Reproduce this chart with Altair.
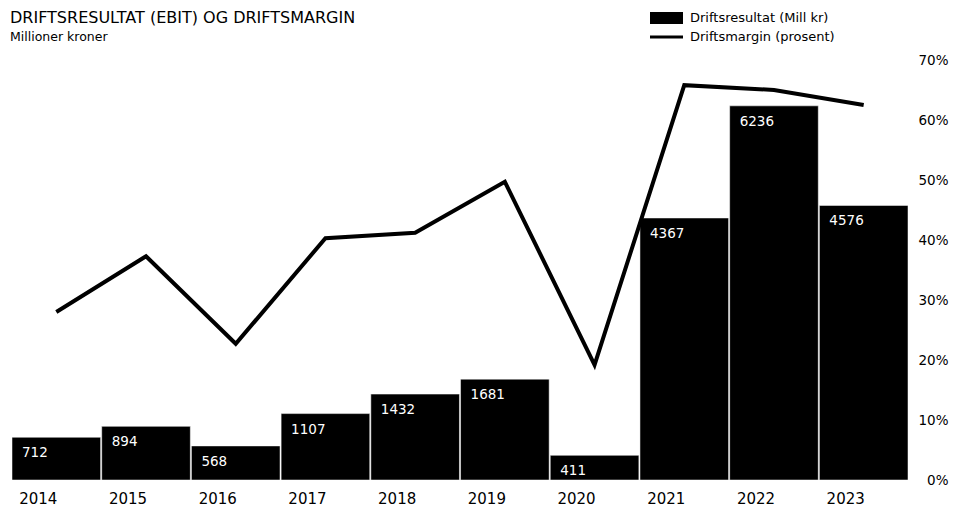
import altair as alt
import pandas as pd

years = ["2014", "2015", "2016", "2017", "2018", "2019", "2020", "2021", "2022", "2023"]
ebit = [712, 894, 568, 1107, 1432, 1681, 411, 4367, 6236, 4576]
margin = [0.280, 0.373, 0.227, 0.403, 0.412, 0.497, 0.192, 0.658, 0.650, 0.625]

legend_labels = ["Driftsresultat (Mill kr)", "Driftsmargin (prosent)"]
title_text = "DRIFTSRESULTAT (EBIT) OG DRIFTSMARGIN"
subtitle_text = "Millioner kroner"

df = pd.DataFrame({"year": years, "ebit": ebit, "margin": margin})

FONT = "DejaVu Sans"

x = alt.X("year:N", title=None, scale=alt.Scale(paddingInner=0.012, paddingOuter=0),
          axis=alt.Axis(labelAlign="center", labelOffset=-18, labelPadding=11, ticks=False,
                        domain=False, labelAngle=0, labelFontSize=15, labelColor="#000",
                        labelFont=FONT))

yb = alt.Y("ebit:Q", scale=alt.Scale(domain=[0, 7000], nice=False), axis=None)

bars = alt.Chart(df).mark_bar(color="#000", stroke="#fff", strokeWidth=0.5).encode(x=x, y=yb)

labels = alt.Chart(df).mark_text(color="#fff", align="left", baseline="top", dx=10, dy=9,
                                  fontSize=13.5, font=FONT).encode(
    x=alt.X("year:N", bandPosition=0, title=None),
    y=yb,
    text="ebit:Q",
)

line = alt.Chart(df).mark_line(color="#000", strokeWidth=4).encode(
    x=alt.X("year:N", title=None),
    y=alt.Y("margin:Q", scale=alt.Scale(domain=[0, 0.7], nice=False),
            axis=alt.Axis(orient="right", format=".0%", values=[0, .1, .2, .3, .4, .5, .6, .7],
                          ticks=False, domain=False, grid=False, labelAlign="right",
                          labelPadding=40, labelFontSize=13.5, labelColor="#000",
                          labelFont=FONT, title=None)),
)

leg = pd.DataFrame({"lab": legend_labels, "i": [0, 1]})
leg_rect = alt.Chart(leg).transform_filter("datum.i == 0").mark_rect(color="#000").encode(
    x=alt.value(638), x2=alt.value(671), y=alt.value(-48), y2=alt.value(-36))
leg_line = alt.Chart(leg).transform_filter("datum.i == 1").mark_rect(color="#000").encode(
    x=alt.value(638), x2=alt.value(671), y=alt.value(-24.5), y2=alt.value(-21.5))
leg_t0 = alt.Chart(leg).transform_filter("datum.i == 0").mark_text(
    align="left", baseline="middle", fontSize=13, font=FONT, color="#000").encode(
    x=alt.value(678), y=alt.value(-42), text="lab:N")
leg_t1 = alt.Chart(leg).transform_filter("datum.i == 1").mark_text(
    align="left", baseline="middle", fontSize=13, font=FONT, color="#000").encode(
    x=alt.value(678), y=alt.value(-23), text="lab:N")

title_df = pd.DataFrame({"t": [title_text, subtitle_text], "k": [0, 1]})
title_txt = alt.Chart(title_df).transform_filter("datum.k == 0").mark_text(
    align="left", baseline="middle", fontSize=16, font=FONT, color="#000").encode(
    x=alt.value(-2), y=alt.value(-42), text="t:N")
sub_txt = alt.Chart(title_df).transform_filter("datum.k == 1").mark_text(
    align="left", baseline="middle", fontSize=12.5, font=FONT, color="#000").encode(
    x=alt.value(-2), y=alt.value(-23), text="t:N")

chart = alt.layer(bars, labels, line, leg_rect, leg_line, leg_t0, leg_t1, title_txt, sub_txt).resolve_scale(
    y="independent"
).properties(
    width=896, height=420,
    autosize=alt.AutoSizeParams(type="none"),
    padding={"left": 4, "top": 52, "right": 41, "bottom": 26},
).configure(font=FONT).configure_view(stroke=None, strokeWidth=0)

chart.save("out.html", embed_options={"renderer": "svg", "actions": False})
